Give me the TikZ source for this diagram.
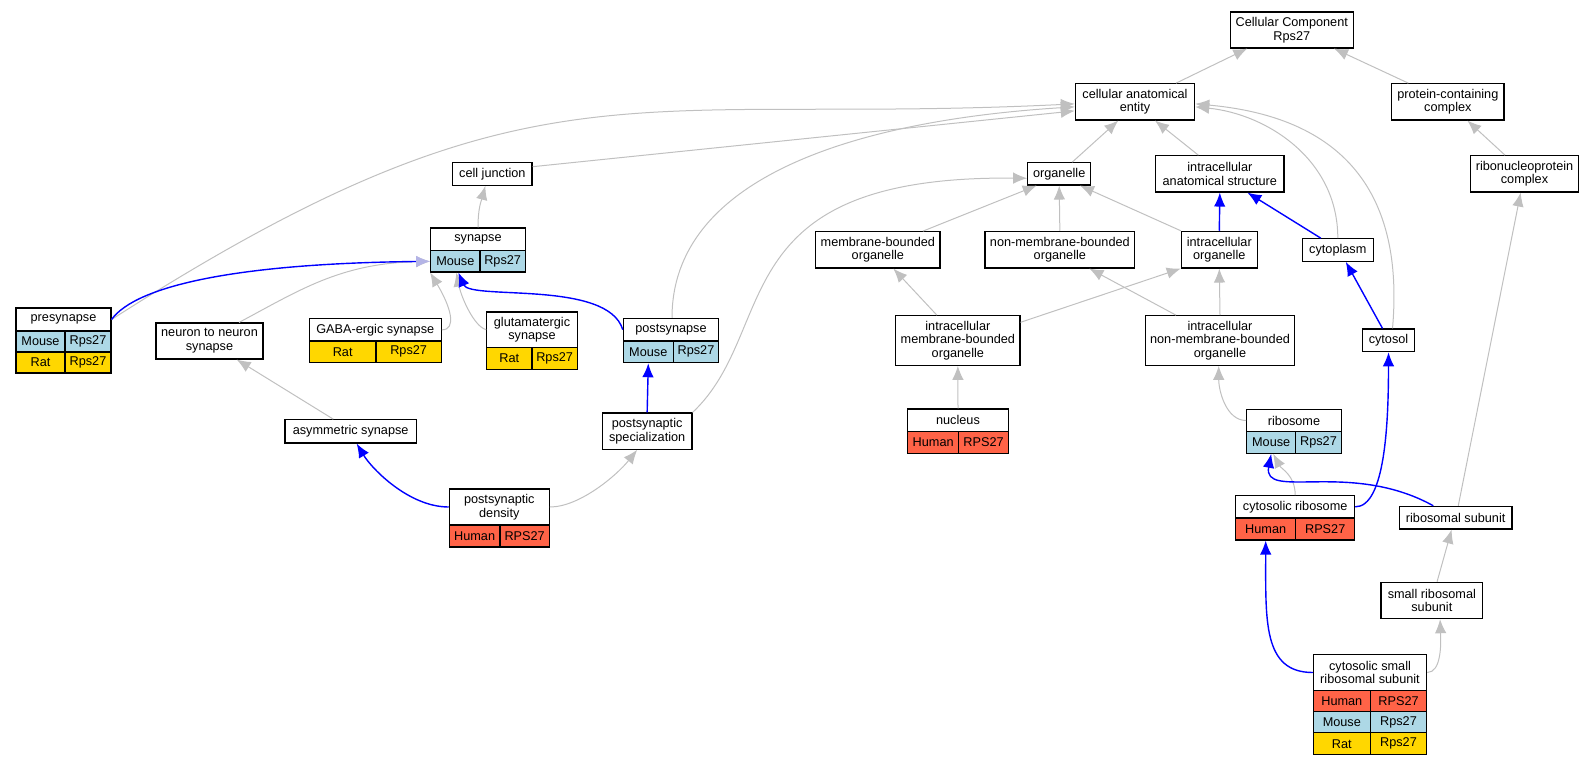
\documentclass[tikz,border=0pt]{standalone}
\usepackage{fontspec}
\setmainfont{Liberation Sans}
\usetikzlibrary{arrows.meta}
\definecolor{edgegray}{HTML}{C0C0C0}
\definecolor{mouse}{HTML}{ADD8E6}
\definecolor{rat}{HTML}{FFD700}
\definecolor{human}{HTML}{FF6347}
\definecolor{mixblue}{HTML}{B4B4E6}
\tikzset{
  term/.style={draw=black, line width=1.1pt, inner sep=0pt, align=center,
    font=\fontsize{12.7}{13.6}\selectfont},
  isa/.style={draw=edgegray, line width=1pt, -{Latex[length=14pt,width=11.5pt]}},
  gene/.style={draw=blue, line width=1.4pt, -{Latex[length=14pt,width=11.5pt]}}
}
% box from (x1,y1) to (x2,y2), pixel coordinates
\newcommand{\bx}[7]{\node[term, fill=#2, minimum width={#5-#3}, minimum height={#6-#4}] (#1) at ({(#3+#5)/2},{(#4+#6)/2}) {#7};}

\begin{document}
\begin{tikzpicture}[x=1pt,y=-1pt]
\useasboundingbox (0,0) rectangle (1593,765);

\bx{cc}{white}{1230.3}{12}{1353.3}{48}{Cellular Component\\Rps27}
\bx{cae}{white}{1075.3}{83.7}{1194.7}{120}{cellular anatomical\\entity}
\bx{pcc}{white}{1391.7}{83.7}{1504}{120}{protein-containing\\complex}
\bx{rnp}{white}{1470.3}{155.7}{1578.7}{192}{ribonucleoprotein\\complex}
\bx{cj}{white}{452.7}{162.7}{532}{185.3}{cell junction}
\bx{org}{white}{1027.7}{162.7}{1090.7}{185}{organelle}
\bx{ias}{white}{1155.7}{155.7}{1284}{192}{intracellular\\anatomical structure}
\bx{mbo}{white}{815.7}{231.7}{940}{268}{membrane-bounded\\organelle}
\bx{nmbo}{white}{985}{231.3}{1134.7}{268}{non-membrane-bounded\\organelle}
\bx{io}{white}{1181.3}{231.3}{1257.3}{268}{intracellular\\organelle}
\bx{cyp}{white}{1302.3}{238.7}{1373.3}{261.3}{cytoplasm}
\bx{syn}{white}{430.7}{228}{525.3}{250.7}{synapse}
\bx{synA}{mouse}{430.7}{250.7}{480}{272}{Mouse}
\bx{synB}{mouse}{480}{250.7}{525.3}{272}{Rps27}
\bx{pre}{white}{16}{308}{111}{331}{presynapse}
\bx{preA}{mouse}{16}{331}{65}{352}{Mouse}
\bx{preB}{mouse}{65}{331}{111}{352}{Rps27}
\bx{preC}{rat}{16}{352}{65}{373}{Rat}
\bx{preD}{rat}{65}{352}{111}{373}{Rps27}
\bx{nns}{white}{156}{323}{263}{359}{neuron to neuron\\synapse}
\bx{gaba}{white}{309.3}{318.7}{441.3}{341}{GABA-ergic synapse}
\bx{gabaA}{rat}{309.3}{341}{376}{362.7}{Rat}
\bx{gabaB}{rat}{376}{341}{441.3}{362.7}{Rps27}
\bx{glu}{white}{486.7}{312}{577.3}{347.3}{glutamatergic\\synapse}
\bx{gluA}{rat}{486.7}{347.3}{532}{369.3}{Rat}
\bx{gluB}{rat}{532}{347.3}{577.3}{369.3}{Rps27}
\bx{pos}{white}{623.3}{318.3}{718.7}{341}{postsynapse}
\bx{posA}{mouse}{623.3}{341}{673.3}{362.7}{Mouse}
\bx{posB}{mouse}{673.3}{341}{718.7}{362.7}{Rps27}
\bx{imbo}{white}{895.7}{315.7}{1020}{365.3}{intracellular\\membrane-bounded\\organelle}
\bx{inmbo}{white}{1145.3}{315.7}{1294.7}{365.3}{intracellular\\non-membrane-bounded\\organelle}
\bx{cyt}{white}{1362.3}{329}{1414.7}{351.7}{cytosol}
\bx{asy}{white}{285}{419.7}{416.3}{443}{asymmetric synapse}
\bx{pss}{white}{602.3}{413}{692}{449.3}{postsynaptic\\specialization}
\bx{nuc}{white}{907.7}{409}{1008.3}{431.7}{nucleus}
\bx{nucA}{human}{907.7}{431.7}{958.7}{453.3}{Human}
\bx{nucB}{human}{958.7}{431.7}{1008.3}{453.3}{RPS27}
\bx{ribo}{white}{1246.7}{409.3}{1341.3}{431.7}{ribosome}
\bx{riboA}{mouse}{1246.7}{431.7}{1295.7}{453.3}{Mouse}
\bx{riboB}{mouse}{1295.7}{431.7}{1341.3}{453.3}{Rps27}
\bx{psd}{white}{449.3}{489}{549.3}{525}{postsynaptic\\density}
\bx{psdA}{human}{449.3}{525}{500}{547}{Human}
\bx{psdB}{human}{500}{525}{549.3}{547}{RPS27}
\bx{csr}{white}{1235.7}{495.7}{1354.7}{518}{cytosolic ribosome}
\bx{csrA}{human}{1235.7}{518}{1295.7}{540}{Human}
\bx{csrB}{human}{1295.7}{518}{1354.7}{540}{RPS27}
\bx{rs}{white}{1399.3}{506.3}{1512}{529}{ribosomal subunit}
\bx{srs}{white}{1381}{582.3}{1482.7}{618.7}{small ribosomal\\subunit}
\bx{cssu}{white}{1313.3}{654.7}{1426.7}{690.3}{cytosolic small\\ribosomal subunit}
\bx{cssuA}{human}{1313.3}{690.3}{1370.3}{711.7}{Human}
\bx{cssuB}{human}{1370.3}{690.3}{1426.7}{711.7}{RPS27}
\bx{cssuC}{mouse}{1313.3}{711.7}{1370.3}{732.7}{Mouse}
\bx{cssuD}{mouse}{1370.3}{711.7}{1426.7}{732.7}{Rps27}
\bx{cssuE}{rat}{1313.3}{732.7}{1370.3}{754.7}{Rat}
\bx{cssuF}{rat}{1370.3}{732.7}{1426.7}{754.7}{Rps27}

% is_a / part_of edges
\draw[isa] ([xshift=41]cae.north) -- ([xshift=-44.5]cc.south);
\draw[isa] ([xshift=-39.5]pcc.north) -- ([xshift=42.2]cc.south);
\draw[isa] ([xshift=-19.5]rnp.north) -- ([xshift=19.5]pcc.south);
\draw[isa] ([xshift=2.6]rs.north) -- ([xshift=-3.8]rnp.south);
\draw[isa] ([xshift=5.2]srs.north) -- ([xshift=-4]rs.south);
\draw[isa] (cssu.east) .. controls +(14,0) and +(1,25) .. ([xshift=8.2]srs.south);
\draw[isa] (csr.north) .. controls +(0,-20) and +(8,15) .. ([xshift=2]riboA.south);
\draw[isa] (ribo.west) .. controls +(-20,0) and +(0,25) .. ([xshift=-1.3]inmbo.south);
\draw[isa] (nuc.north) -- (imbo.south);
\draw[isa] ([xshift=-21]imbo.north) -- ([xshift=15.5]mbo.south);
\draw[isa] ([yshift=18.2]imbo.east) -- (io.south west);
\draw[isa] ([xshift=-44]inmbo.north) -- ([xshift=29.5]nmbo.south);
\draw[isa] (inmbo.north) -- (io.south);
\draw[isa] ([xshift=45]mbo.north) -- ([xshift=-22.5]org.south);
\draw[isa] (nmbo.north) -- (org.south);
\draw[isa] (io.north west) -- ([xshift=20.8]org.south);
\draw[isa] ([xshift=13]org.north) -- ([xshift=-16.7]cae.south);
\draw[isa] ([xshift=-21.5]ias.north) -- ([xshift=20]cae.south);
\draw[isa] (cyp.north) .. controls +(0,-80) and +(70,7) .. ([yshift=-5]cae.east);
\draw[isa] ([xshift=4]cyt.north) .. controls +(15,-170) and +(110,10) .. ([yshift=-2]cae.east);
\draw[isa] ([yshift=7.3]cj.east) -- ([yshift=-9]cae.west);
\draw[isa] (pre.east) .. controls +(420,-269) and +(-450,22) .. ([yshift=-2]cae.west);
\draw[isa] ([xshift=1]pos.north) .. controls +(0,-138) and +(-225,14) .. ([yshift=-5]cae.west);
\draw[isa] (pss.north east) .. controls +(88,-83) and +(-308,-3) .. ([yshift=-4.4]org.west);
\draw[isa] (syn.north) .. controls +(0,-20) and +(-4,15) .. ([xshift=-7]cj.south);
\draw[isa] ([xshift=29.5]nns.north) .. controls +(60,-32) and +(-90,2) .. (synA.west);
\draw[isa] (gaba.east) .. controls +(15,0) and +(21,35) .. (synA.south west);
\draw[isa] (glu.west) .. controls +(-12,-3) and +(5,25) .. ([xshift=1]synA.south);
\draw[isa] ([xshift=-17.4]asy.north) -- ([xshift=27.2]nns.south);
\draw[isa] (psd.east) .. controls +(30,0) and +(-20,25) .. ([xshift=-10]pss.south);

% annotated gene edges
\draw[gene] (io.north) -- (ias.south);
\draw[gene] ([xshift=-17]cyp.north) -- ([xshift=27.5]ias.south);
\draw[gene] ([xshift=-6]cyt.north) -- ([xshift=8]cyp.south);
\draw[gene] (csr.east) .. controls +(30,0) and +(0,70) .. (cyt.south);
\draw[gene] ([xshift=-22.4]rs.north) .. controls +(-83,-46) and +(-9,47) .. (riboA.south);
\draw[gene] (cssu.west) .. controls +(-50,0) and +(0,80) .. (csrA.south);
\draw[gene] (pss.north) -- (posA.south);
\draw[gene] (psd.west) .. controls +(-40,0) and +(15,25) .. ([xshift=6]asy.south);
\draw[gene] (pos.west) .. controls +(-15,-50) and +(12,28) .. ([xshift=3]synA.south);
\draw[gene, -{Latex[length=14pt,width=11.5pt,color=mixblue]}] (pre.east) .. controls +(25,-34.5) and +(-190,2) .. (synA.west);
\end{tikzpicture}
\end{document}
